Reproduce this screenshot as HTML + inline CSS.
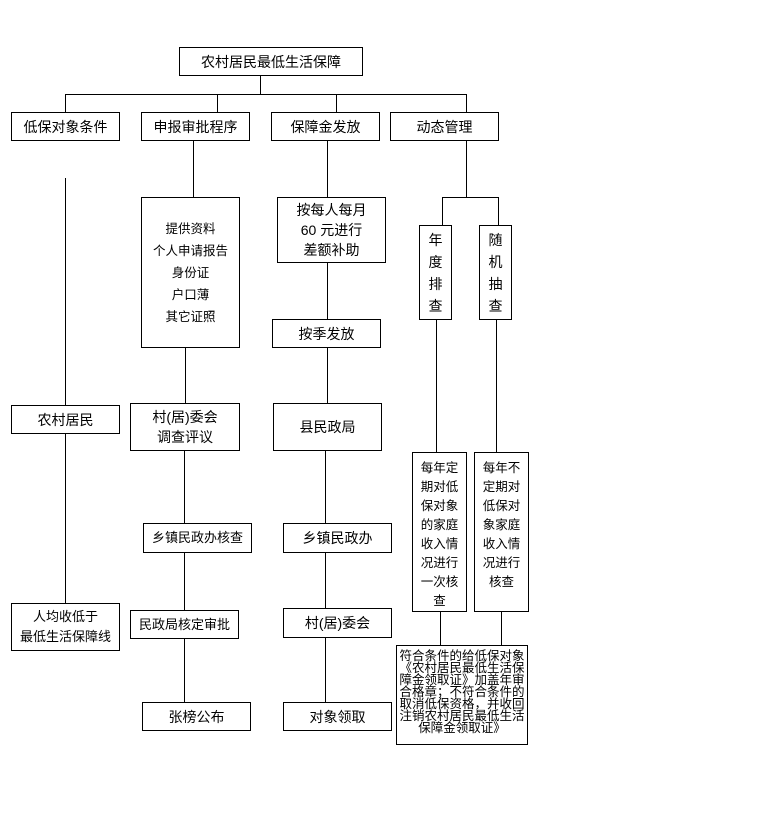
<!DOCTYPE html>
<html><head><meta charset="utf-8"><style>
body{margin:0;width:768px;height:826px;background:#fff;position:relative;overflow:hidden;font-family:"Liberation Sans","Noto Sans CJK SC","WenQuanYi Zen Hei",sans-serif;color:#000}
.b{position:absolute;border:1px solid #000;box-sizing:border-box;background:#fff;display:flex;align-items:center;justify-content:center;text-align:center;font-size:14px;line-height:22px}
.v{position:absolute;background:#000;width:1px}
.h{position:absolute;background:#000;height:1px}
.t{flex-direction:column;font-size:12.5px;line-height:19px;justify-content:flex-start;padding-top:6px}
</style></head><body>
<div class="b" style="left:179px;top:47px;width:184px;height:29px">农村居民最低生活保障</div>
<div class="v" style="left:260px;top:75px;height:19px"></div>
<div class="h" style="left:65px;top:94px;width:402px"></div>
<div class="v" style="left:65px;top:94px;height:18px"></div>
<div class="v" style="left:217px;top:94px;height:18px"></div>
<div class="v" style="left:336px;top:94px;height:18px"></div>
<div class="v" style="left:466px;top:94px;height:18px"></div>

<div class="b" style="left:11px;top:112px;width:109px;height:29px">低保对象条件</div>
<div class="b" style="left:141px;top:112px;width:109px;height:29px">申报审批程序</div>
<div class="b" style="left:271px;top:112px;width:109px;height:29px">保障金发放</div>
<div class="b" style="left:390px;top:112px;width:109px;height:29px">动态管理</div>

<!-- col1 -->
<div class="v" style="left:65px;top:178px;height:227px"></div>
<div class="b" style="left:11px;top:405px;width:109px;height:29px">农村居民</div>
<div class="v" style="left:65px;top:433px;height:170px"></div>
<div class="b" style="left:11px;top:603px;width:109px;height:48px;font-size:13px;line-height:20px">人均收低于<br>最低生活保障线</div>

<!-- col2 -->
<div class="v" style="left:193px;top:140px;height:57px"></div>
<div class="b" style="left:141px;top:197px;width:99px;height:151px;font-size:12.5px;line-height:22px">提供资料<br>个人申请报告<br>身份证<br>户口薄<br>其它证照</div>
<div class="v" style="left:185px;top:347px;height:56px"></div>
<div class="b" style="left:130px;top:403px;width:110px;height:48px;line-height:20px">村(居)委会<br>调查评议</div>
<div class="v" style="left:184px;top:450px;height:73px"></div>
<div class="b" style="left:143px;top:523px;width:109px;height:30px;font-size:13px">乡镇民政办核查</div>
<div class="v" style="left:184px;top:552px;height:58px"></div>
<div class="b" style="left:130px;top:610px;width:109px;height:29px;font-size:13px">民政局核定审批</div>
<div class="v" style="left:184px;top:638px;height:64px"></div>
<div class="b" style="left:142px;top:702px;width:109px;height:29px">张榜公布</div>

<!-- col3 -->
<div class="v" style="left:327px;top:140px;height:57px"></div>
<div class="b" style="left:277px;top:197px;width:109px;height:66px;line-height:20px">按每人每月<br>60 元进行<br>差额补助</div>
<div class="v" style="left:327px;top:262px;height:57px"></div>
<div class="b" style="left:272px;top:319px;width:109px;height:29px">按季发放</div>
<div class="v" style="left:327px;top:347px;height:56px"></div>
<div class="b" style="left:273px;top:403px;width:109px;height:48px">县民政局</div>
<div class="v" style="left:325px;top:450px;height:73px"></div>
<div class="b" style="left:283px;top:523px;width:109px;height:30px">乡镇民政办</div>
<div class="v" style="left:325px;top:552px;height:56px"></div>
<div class="b" style="left:283px;top:608px;width:109px;height:30px">村(居)委会</div>
<div class="v" style="left:325px;top:637px;height:65px"></div>
<div class="b" style="left:283px;top:702px;width:109px;height:29px">对象领取</div>

<!-- col4 -->
<div class="v" style="left:466px;top:140px;height:57px"></div>
<div class="h" style="left:442px;top:197px;width:57px"></div>
<div class="v" style="left:442px;top:197px;height:28px"></div>
<div class="v" style="left:498px;top:197px;height:28px"></div>
<div class="b" style="left:419px;top:225px;width:33px;height:95px;line-height:22px">年<br>度<br>排<br>查</div>
<div class="b" style="left:479px;top:225px;width:33px;height:95px;line-height:22px">随<br>机<br>抽<br>查</div>
<div class="v" style="left:436px;top:319px;height:133px"></div>
<div class="v" style="left:496px;top:319px;height:133px"></div>
<div class="b t" style="left:412px;top:452px;width:55px;height:160px">每年定<br>期对低<br>保对象<br>的家庭<br>收入情<br>况进行<br>一次核<br>查</div>
<div class="b t" style="left:474px;top:452px;width:55px;height:160px">每年不<br>定期对<br>低保对<br>象家庭<br>收入情<br>况进行<br>核查</div>
<div class="v" style="left:440px;top:611px;height:34px"></div>
<div class="v" style="left:501px;top:611px;height:34px"></div>
<div class="b" style="left:396px;top:645px;width:132px;height:100px;font-size:12.5px;line-height:12px;align-items:flex-start;padding-top:4px;white-space:nowrap">符合条件的给低保对象<br>《农村居民最低生活保<br>障金领取证》加盖年审<br>合格章；不符合条件的<br>取消低保资格，并收回<br>注销农村居民最低生活<br>保障金领取证》</div>
</body></html>
